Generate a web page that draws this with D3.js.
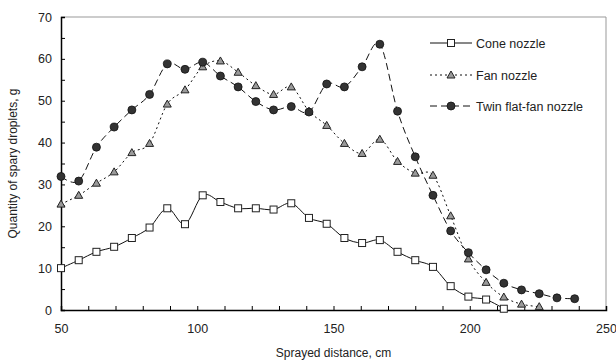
<!DOCTYPE html>
<html>
<head>
<meta charset="utf-8">
<script src="https://cdn.jsdelivr.net/npm/d3@7"></script>
<style>
  body { margin: 0; background: #fff; }
  svg text { font-family: "Liberation Sans", Arial, sans-serif; fill: #222; }
</style>
</head>
<body>
<div id="chart"></div>
<script>
const width = 616;
const height = 364;

// sprayed distance, cm
const distance = [50, 56.5, 63, 69.5, 76, 82.5, 89, 95.5, 102, 108.5, 115, 121.5, 128, 134.5, 141,
  147.5, 154, 160.5, 167, 173.5, 180, 186.5, 193, 199.5, 206, 212.5, 219, 225.5, 232, 238.5];

const cone = [10, 11.9, 13.9, 15.1, 17.2, 19.7, 24.3, 20.5, 27.4, 25.8, 24.3, 24.3, 24.0, 25.5, 22.0,
  20.6, 17.2, 16.0, 16.7, 13.9, 11.9, 10.3, 5.7, 3.2, 2.5, 0.3];
const fan = [25.3, 27.4, 30.3, 33.0, 37.6, 39.8, 49.2, 52.6, 58.1, 59.5, 56.8, 53.6, 51.5, 53.3, 47.5,
  44.1, 39.8, 37.4, 40.8, 35.5, 32.7, 32.2, 22.5, 12.2, 6.6, 3.1, 1.4, 0.8];
const twin = [31.9, 30.8, 38.9, 43.7, 47.8, 51.5, 58.8, 57.5, 59.2, 55.9, 53.3, 49.8, 47.8, 48.6, 47.3,
  54.0, 53.3, 58.1, 63.5, 47.5, 36.6, 27.4, 18.9, 13.7, 9.6, 6.4, 4.8, 3.9, 2.9, 2.7];

const seriesNames = ["Cone nozzle", "Fan nozzle", "Twin flat-fan nozzle"];
const xTicks = [50, 100, 150, 200, 250];
const yTicks = [0, 10, 20, 30, 40, 50, 60, 70];

const margin = {top: 17, right: 10, bottom: 54, left: 61};

const svg = d3.select("#chart").append("svg")
  .attr("width", width)
  .attr("height", height);

const x = d3.scaleLinear().domain([50, 250]).range([margin.left, width - margin.right]);
const y = d3.scaleLinear().domain([0, 70]).range([height - margin.bottom, margin.top]);

// plot frame (top and right)
svg.append("path")
  .attr("d", `M${x(50)},${y(70)}H${x(250)}V${y(0)}`)
  .attr("fill", "none")
  .attr("stroke", "#999")
  .attr("stroke-width", 1);

// axes, ticks inward
const xAxis = svg.append("g")
  .attr("transform", `translate(0,${y(0)})`)
  .call(d3.axisBottom(x).tickValues(d3.range(50, 251, 10)).tickSize(-4).tickFormat(""));
xAxis.select(".domain").attr("stroke-width", 1.5);
svg.append("g")
  .attr("transform", `translate(0,${y(0)})`)
  .call(d3.axisBottom(x).tickValues(xTicks).tickSize(0).tickPadding(14))
  .call(g => g.select(".domain").remove())
  .selectAll("text").attr("font-size", 12.5);

const yAxis = svg.append("g")
  .attr("transform", `translate(${x(50)},0)`)
  .call(d3.axisLeft(y).tickValues(d3.range(0, 71, 5)).tickSize(-4).tickFormat(""));
yAxis.select(".domain").attr("stroke-width", 1.5);
svg.append("g")
  .attr("transform", `translate(${x(50)},0)`)
  .call(d3.axisLeft(y).tickValues(yTicks).tickSize(0).tickPadding(9))
  .call(g => g.select(".domain").remove())
  .selectAll("text").attr("font-size", 12.5);

svg.append("text")
  .attr("x", (x(50) + x(250)) / 2)
  .attr("y", 357)
  .attr("text-anchor", "middle")
  .attr("font-size", 12)
  .text("Sprayed distance, cm");

svg.append("text")
  .attr("transform", `translate(17,${(y(0) + y(70)) / 2}) rotate(-90)`)
  .attr("text-anchor", "middle")
  .attr("font-size", 12)
  .text("Quantity of spary droplets, g");

const line = d3.line()
  .x(d => x(d[0]))
  .y(d => y(d[1]))
  .curve(d3.curveCatmullRom.alpha(0));

const styles = [
  {values: cone, dash: null, marker: "square"},
  {values: fan, dash: "2,3", marker: "triangle"},
  {values: twin, dash: "7,4", marker: "circle"}
];

function drawMarker(g, type, cx, cy) {
  if (type === "square") {
    g.append("rect")
      .attr("x", cx - 3.5).attr("y", cy - 3.5)
      .attr("width", 7).attr("height", 7)
      .attr("fill", "#fff").attr("stroke", "#222").attr("stroke-width", 1);
  } else if (type === "triangle") {
    g.append("path")
      .attr("d", `M${cx},${cy - 4}L${cx + 4},${cy + 3}L${cx - 4},${cy + 3}Z`)
      .attr("fill", "#9a9a9a").attr("stroke", "#222").attr("stroke-width", 1);
  } else {
    g.append("circle")
      .attr("cx", cx).attr("cy", cy).attr("r", 4)
      .attr("fill", "#333").attr("stroke", "#111").attr("stroke-width", 0.8);
  }
}

styles.forEach(s => {
  const pts = s.values.map((v, i) => [distance[i], v]);
  svg.append("path")
    .datum(pts)
    .attr("d", line)
    .attr("fill", "none")
    .attr("stroke", "#111")
    .attr("stroke-width", 1)
    .attr("stroke-dasharray", s.dash);
  const g = svg.append("g");
  pts.forEach(p => drawMarker(g, s.marker, x(p[0]), y(p[1])));
});

// legend
const legend = svg.append("g");
const legendY = [43, 75, 106];
styles.forEach((s, i) => {
  legend.append("line")
    .attr("x1", 430).attr("x2", 472)
    .attr("y1", legendY[i]).attr("y2", legendY[i])
    .attr("stroke", "#111")
    .attr("stroke-width", 1)
    .attr("stroke-dasharray", s.dash);
  drawMarker(legend, s.marker, 451, legendY[i]);
  legend.append("text")
    .attr("x", 476)
    .attr("y", legendY[i] + 4.5)
    .attr("font-size", 12.5)
    .text(seriesNames[i]);
});
</script>
</body>
</html>
